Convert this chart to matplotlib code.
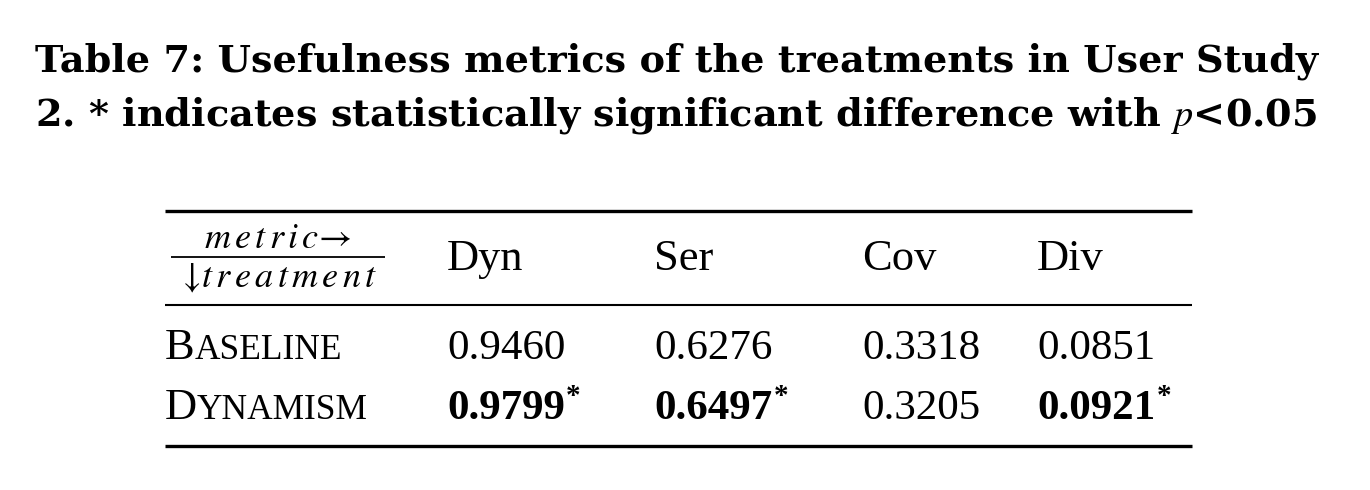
import matplotlib
matplotlib.use("Agg")
import matplotlib.pyplot as plt

plt.rcParams['font.family'] = ['Liberation Serif', 'DejaVu Serif']
plt.rcParams['mathtext.fontset'] = 'stix'

title_lines = ["Table 7: Usefulness metrics of the treatments in User Study",
               "2. * indicates statistically significant difference with $p$<0.05"]
metrics = ["Dyn", "Ser", "Cov", "Div"]
treatments = [("B", "ASELINE"), ("D", "YNAMISM")]
values = [["0.9460", "0.6276", "0.3318", "0.0851"],
          ["0.9799", "0.6497", "0.3205", "0.0921"]]
significant = [[False, False, False, False],
               [True, True, False, True]]

W, H = 1370, 490
fig = plt.figure(figsize=(W / 100, H / 100), dpi=100)
ax = fig.add_axes([0, 0, 1, 1])
ax.set_xlim(0, W)
ax.set_ylim(H, 0)
ax.axis('off')

# title
tfont = ['DejaVu Serif']
ax.text(35, 72, title_lines[0], fontsize=27.5, fontweight='bold', va='baseline',
        ha='left', family=tfont)
ax.text(35, 125, title_lines[1], fontsize=27.5, fontweight='bold', va='baseline',
        ha='left', family=tfont)

# rules
ax.plot([165, 1192], [211, 211], color='black', lw=2.4, solid_capstyle='butt')
ax.plot([165, 1192], [305, 305], color='black', lw=1.5, solid_capstyle='butt')
ax.plot([165, 1192], [446, 446], color='black', lw=2.4, solid_capstyle='butt')

# header fraction
ax.text(278, 248, r"$m\,e\,t\,r\,i\,c\!\rightarrow$", fontsize=26, ha='center', va='baseline')
ax.plot([171, 385], [257, 257], color='black', lw=1.3, solid_capstyle='butt')
ax.text(277, 287, r"$\downarrow\!t\,r\,e\,a\,t\,m\,e\,n\,t$", fontsize=26, ha='center', va='baseline')

col_x = [447, 654, 862, 1037]
for x, m in zip(col_x, metrics):
    ax.text(x, 270, m, fontsize=32, ha='left', va='baseline')

row_y = [359, 419]
for y, (big, small), vals, sig in zip(row_y, treatments, values, significant):
    t = ax.text(165, y, big, fontsize=32, ha='left', va='baseline')
    ax.annotate(small, xy=(1, y), xycoords=(t, 'data'), fontsize=25.5,
                ha='left', va='baseline')
    for x, v, s in zip(col_x, vals, sig):
        tv = ax.text(x, y, v, fontsize=31, ha='left', va='baseline',
                     fontweight='bold' if s else 'normal')
        if s:
            ax.annotate("*", xy=(1, y), xycoords=(tv, 'data'), xytext=(1, 11),
                        textcoords='offset points', fontsize=21, fontweight='bold',
                        ha='left', va='baseline')

fig.savefig("out.png", dpi=100)
